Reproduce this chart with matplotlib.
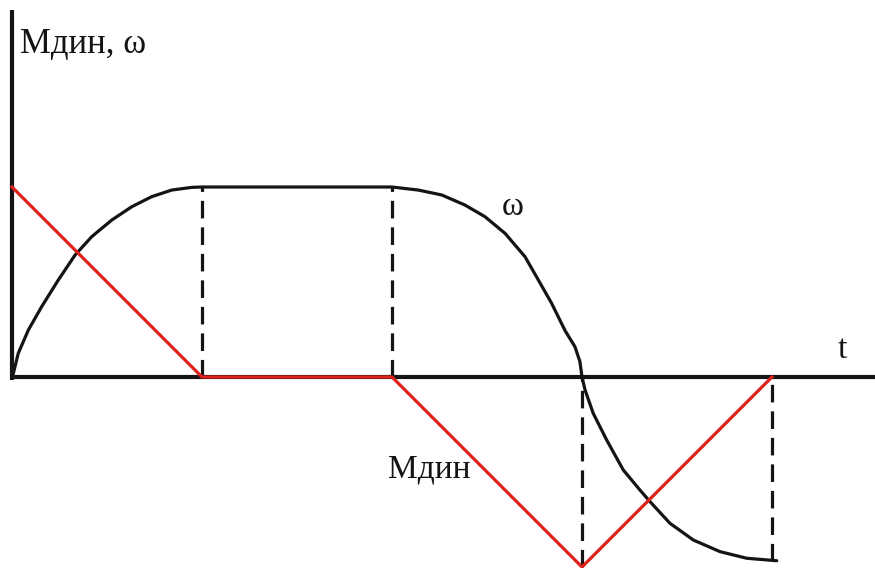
import matplotlib
matplotlib.use("Agg")
import matplotlib.pyplot as plt

# omega curve (t, value)
omega_t = [0.0, 0.007, 0.033, 0.086, 0.156, 0.244, 0.332, 0.419, 0.525, 0.630,
           0.735, 0.841, 0.946, 1.0,
           2.0, 2.138, 2.262, 2.384, 2.489, 2.595, 2.700, 2.770, 2.840, 2.911,
           2.963, 2.989, 3.0,
           3.016, 3.059, 3.130, 3.217, 3.305, 3.358, 3.463, 3.586, 3.726, 3.867, 4.025]
omega_v = [0.0, 0.019, 0.125, 0.247, 0.370, 0.511, 0.642, 0.738, 0.826, 0.896,
           0.949, 0.984, 0.998, 1.0,
           1.0, 0.984, 0.958, 0.905, 0.844, 0.756, 0.633, 0.511, 0.388, 0.244,
           0.159, 0.081, 0.0,
           -0.068, -0.191, -0.332, -0.489, -0.595, -0.656, -0.770, -0.858, -0.919, -0.954, -0.967]

# dynamic torque (piecewise linear)
m_t = [0.0, 1.0, 2.0, 3.0, 4.0]
m_v = [1.0, 0.0, 0.0, -1.0, 0.0]

# dashed verticals: (t, y0, y1)
dash_t = [1.0, 2.0, 3.0, 4.0]
dash_lo = [0.0, 0.0, -1.0, -0.967]
dash_hi = [1.0, 1.0, 0.0, 0.0]

RED = "#E0201B"
BLK = "#141414"

fig = plt.figure(figsize=(8.75, 5.68), dpi=100)
ax = fig.add_axes([0, 0, 1, 1])
ax.set_xlim(-12/190, 863/190)
ax.set_ylim(-191/190, 377/190)
ax.axis("off")

# axes
ax.plot([0, 0], [-3/190, 367/190], color=BLK, lw=3.0, solid_capstyle="butt")
ax.plot([0, 870/190], [0, 0], color=BLK, lw=3.0, solid_capstyle="butt")

for t, lo, hi in zip(dash_t, dash_lo, dash_hi):
    ax.plot([t, t], [lo, hi], color=BLK, lw=2.3, linestyle=(0, (5.5, 2.8)))

ax.plot(omega_t, omega_v, color=BLK, lw=2.3, solid_joinstyle="round",
        solid_capstyle="round")
ax.plot(m_t, m_v, color=RED, lw=2.3, clip_on=False)

serif = ["Liberation Serif", "DejaVu Serif"]
ax.text(8/190, 324/190, "Мдин, ω", fontsize=25, family=serif, color=BLK,
        ha="left", va="baseline")
ax.text(490/190, 162/190, "ω", fontsize=24, family=serif, color=BLK,
        ha="left", va="baseline")
ax.text(826/190, 19/190, "t", fontsize=24, family=serif, color=BLK,
        ha="left", va="baseline")
ax.text(376/190, -100/190, "Мдин", fontsize=24, family=serif, color=BLK,
        ha="left", va="baseline")

fig.savefig("out.png", dpi=100, facecolor="white")
